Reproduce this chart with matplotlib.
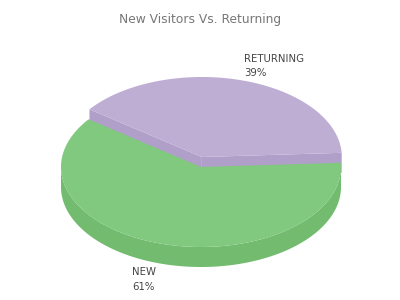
import numpy as np
import matplotlib.pyplot as plt
from matplotlib.patches import Polygon

# data
labels = ['NEW', 'RETURNING']
values = [61, 39]
top_colors = ['#80c97e', '#beaed4']
side_colors = ['#72bb6f', '#b09fc8']

# pie geometry in pixel units (y grows downward)
cx, cy = 201, 167
rx, ry = 140, 80
depth = 20
start = 3
explode = {'RETURNING': 10}


def ell(t, ox, oy, dy=0):
    t = np.radians(t)
    return np.column_stack([ox + rx * np.cos(t), oy - ry * np.sin(t) + dy])


fig = plt.figure(figsize=(4, 3), dpi=100)
ax = fig.add_axes([0, 0, 1, 1])
ax.set_xlim(0, 400)
ax.set_ylim(300, 0)
ax.axis('off')

# angles: RETURNING from start counter-clockwise, NEW takes the rest
total = float(sum(values))
ret_span = 360 * values[1] / total
spans = {'RETURNING': (start, start + ret_span),
         'NEW': (start + ret_span, start + 360)}

layers = []
for i, lab in enumerate(labels):
    a0, a1 = spans[lab]
    off = explode.get(lab, 0)
    mid = np.radians((a0 + a1) / 2)
    ox = cx + off * np.cos(mid) * 0.3
    oy = cy - off
    layers.append((lab, a0, a1, ox, oy, top_colors[i], side_colors[i]))

# outer rims (front half only)
for lab, a0, a1, ox, oy, tc, sc in layers:
    lo, hi = max(a0, 180), min(a1, 360)
    if hi > lo:
        t = np.linspace(lo, hi, 120)
        upper = ell(t, ox, oy)
        lower = ell(t[::-1], ox, oy, depth)
        ax.add_patch(Polygon(np.vstack([upper, lower]), closed=True,
                             fc=sc, ec='none'))
    if a1 > 360:
        t = np.linspace(360, a1, 20)
        upper = ell(t, ox, oy)
        lower = ell(t[::-1], ox, oy, depth)
        ax.add_patch(Polygon(np.vstack([upper, lower]), closed=True,
                             fc=sc, ec='none'))

# cut faces of the exploded slice
for lab, a0, a1, ox, oy, tc, sc in layers:
    if lab != 'RETURNING':
        continue
    for a in (a0, a1):
        p = ell([a], ox, oy)[0]
        face = [(ox, oy), tuple(p), (p[0], p[1] + depth), (ox, oy + depth)]
        ax.add_patch(Polygon(face, closed=True, fc=sc, ec='none'))

# top faces, NEW first then RETURNING on top
for lab, a0, a1, ox, oy, tc, sc in layers:
    t = np.linspace(a0, a1, 200)
    pts = np.vstack([[ox, oy], ell(t, ox, oy)])
    ax.add_patch(Polygon(pts, closed=True, fc=tc, ec='none'))

ax.text(200, 19, 'New Visitors Vs. Returning', ha='center', va='center',
        fontsize=8.8, color='#777777')

lab_kw = dict(ha='left', va='center', fontsize=7.3, color='#444444')
ax.text(244, 59, 'RETURNING', **lab_kw)
ax.text(244, 73, '%d%%' % values[1], **lab_kw)
ax.text(132, 272, 'NEW', **lab_kw)
ax.text(132, 287, '%d%%' % values[0], **lab_kw)

fig.savefig('out.png', dpi=100)
